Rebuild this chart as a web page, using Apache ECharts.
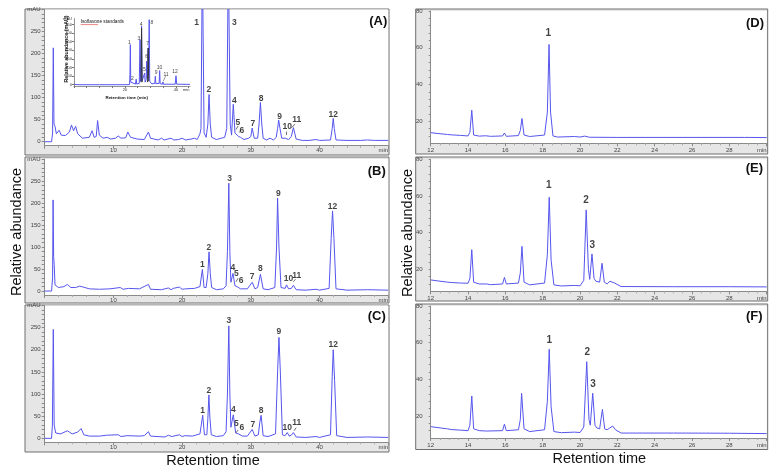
<!DOCTYPE html>
<html><head><meta charset="utf-8">
<script src="https://cdn.jsdelivr.net/npm/echarts@6/dist/echarts.min.js"></script>
<style>html,body{margin:0;padding:0;background:#fff}#c{width:778px;height:475px}</style>
</head><body><div id="c"></div>
<script>
// ---------- DATA ----------
const leftYTicks = [0, 50, 100, 150, 200, 250];
const rightYTicks = [20, 40, 60, 80];
const insetYTicks = [0, 50, 100, 150, 200, 250, 300, 350];

// Panel A: retention time (min) vs mAU
const traceA = [[0,0],[1.0,0],[1.15,20],[1.25,213],[1.35,40],[1.5,35],[1.7,18],[2.1,26],[2.4,15],[3.0,14],[3.6,22],[3.9,38],[4.2,25],[4.5,35],[4.8,18],[5.5,8],[6.5,10],[6.9,25],[7.2,10],[7.5,12],[7.7,48],[7.95,15],[8.5,8],[9.1,10],[9.6,6],[10.3,8],[10.7,13],[11.1,8],[11.8,9],[12.1,22],[12.5,10],[13.5,6],[14.5,5],[15.1,22],[15.4,8],[16.5,4],[17.0,8],[17.4,4],[18.4,8],[18.8,4],[19.5,5],[20.0,8],[20.5,4],[21.3,6],[21.8,8],[22.2,5],[22.6,18],[22.75,30],[22.95,420],[23.2,20],[23.5,10],[23.75,40],[23.92,107],[24.1,40],[24.3,10],[25.0,5],[25.7,8],[26.2,10],[26.5,30],[26.73,420],[27.0,40],[27.2,15],[27.45,85],[27.7,20],[27.9,18],[28.2,12],[28.5,10],[29.0,5],[29.7,8],[30.0,12],[30.2,31],[30.5,8],[31.0,8],[31.2,40],[31.4,89],[31.6,40],[31.8,8],[32.3,4],[32.8,8],[33.3,4],[33.7,10],[33.9,30],[34.06,49],[34.25,30],[34.5,8],[35.0,8],[35.2,12],[35.5,5],[35.9,12],[36.2,32],[36.6,6],[37.5,3],[38.5,3],[39.5,5],[40,3],[41.6,4],[41.85,30],[42.0,53],[42.15,30],[42.4,4],[44,3],[46,3],[47,4],[48,3],[50,3]];
const labelsA = [[22.1,271,'1'],[23.9,119,'2'],[27.6,271,'3'],[27.6,94,'4'],[28.1,43,'5'],[28.7,26,'6'],[30.3,40,'7'],[31.5,98,'8'],[34.2,58,'9'],[35.3,34,'10'],[36.7,51,'11'],[42.0,62,'12']];
const leadersA = [[27.85,27.7,28.14,35.6],[28.33,21,28.57,27],[35.2,15,35.2,23],[35.95,32,36.43,40]];

// Panel B
const traceB = [[0,0],[1.0,0],[1.15,30],[1.22,207],[1.3,78],[1.38,60],[1.5,14],[2,8],[2.8,10],[3.3,15],[3.8,8],[4.5,8],[5.1,11],[5.6,9],[6.5,5],[8,4],[9.5,5],[11,8],[11.4,4],[12.2,6],[13.8,5],[15.1,15],[15.4,4],[17,3],[18.0,7],[18.4,3],[18.7,6],[19.6,9],[20,4],[20.5,5],[21.8,6],[22.6,10],[22.75,8],[22.95,49],[23.2,8],[23.5,8],[23.75,40],[23.92,89],[24.1,40],[24.3,8],[25,3],[26,5],[26.4,12],[26.6,90],[26.8,245],[26.95,90],[27.1,20],[27.4,40],[27.7,12],[28.0,10],[28.5,5],[29.5,5],[30.2,20],[30.6,5],[31.0,8],[31.4,38],[31.8,5],[32.5,3],[33.5,8],[33.75,100],[33.9,211],[34.1,100],[34.4,8],[35.0,6],[35.2,14],[35.5,5],[35.9,6],[36.2,13],[36.6,3],[38,2],[39.5,4],[40,2],[41.4,6],[41.7,120],[41.9,182],[42.1,120],[42.4,5],[44,2],[47,3],[50,2]];
const labelsB = [[22.95,59,'1'],[23.9,98,'2'],[26.9,256,'3'],[27.4,52,'4'],[27.9,39,'5'],[28.6,23,'6'],[30.2,32,'7'],[31.4,50,'8'],[34.0,222,'9'],[35.5,27,'10'],[36.7,34,'11'],[41.9,192,'12']];
const leadersB = [[27.85,21,28.14,29],[36.2,21,36.5,27]];

// Panel C
const traceC = [[0,0],[1.0,0],[1.12,30],[1.25,246],[1.38,30],[1.6,12],[2.3,10],[3.3,17],[4.0,10],[4.8,14],[5.3,22],[5.7,8],[6.5,5],[8,5],[9,7],[10.7,8],[11.1,4],[12,6],[13.7,5],[14.5,6],[15.1,15],[15.4,5],[17.5,3],[18,7],[18.5,4],[19.6,8],[20,4],[20.4,6],[21.5,5],[22.6,10],[22.8,8],[23.0,52],[23.25,8],[23.6,8],[23.75,45],[23.9,98],[24.05,45],[24.25,8],[25,4],[26,6],[26.4,15],[26.6,100],[26.8,254],[26.95,100],[27.1,25],[27.45,53],[27.8,12],[28.2,10],[28.8,5],[29.5,5],[30.2,20],[30.6,5],[31.1,8],[31.3,35],[31.5,52],[31.8,6],[32.5,4],[33.6,10],[33.9,150],[34.1,228],[34.3,150],[34.6,8],[35.0,6],[35.3,13],[35.6,5],[35.9,7],[36.2,13],[36.6,3],[38,2],[39.5,4],[40,2],[41.6,8],[41.85,140],[42.0,200],[42.2,130],[42.5,6],[44,2],[47,3],[50,2]];
const labelsC = [[23.0,62,'1'],[23.9,108,'2'],[26.8,265,'3'],[27.45,65,'4'],[27.9,33,'5'],[28.7,23,'6'],[30.3,30,'7'],[31.5,62,'8'],[34.1,240,'9'],[35.3,23,'10'],[36.7,36,'11'],[42.0,211,'12']];
const leadersC = [[27.85,12.6,28.14,18.7],[36.3,17,36.6,24]];

// Panel D
const traceD = [[12,13.8],[12.5,13.2],[12.9,12.8],[13.0,13.8],[13.1,12.6],[13.6,12.3],[14.0,12.0],[14.1,14],[14.2,26],[14.3,12.5],[14.6,11.9],[14.95,12.1],[15.2,11.8],[15.85,12],[15.95,13.6],[16.05,11.8],[16.7,12.2],[16.8,15],[16.89,21.5],[17.0,12.5],[17.3,11.7],[18.1,12.5],[18.25,25],[18.34,61.8],[18.42,25],[18.55,12],[18.8,11.4],[19.7,11.7],[20.0,11.4],[20.25,11.9],[20.5,11.3],[22,11.2],[26,11.2],[28.8,11.2],[28.9,11.5],[29.1,11.2],[30,11.1]];
const labelsD = [[18.3,67.8,'1']];

// Panel E
const traceE = [[12,14.2],[12.5,13.5],[12.9,13.0],[13.0,13.6],[13.1,12.8],[13.6,12.5],[14.0,12.4],[14.1,15],[14.2,30.7],[14.3,13],[14.6,12],[15.0,12],[15.2,11.6],[15.85,12],[15.95,15.6],[16.05,12],[16.7,12.5],[16.8,18],[16.89,32.5],[17.0,13],[17.3,11.5],[18.1,12.5],[18.25,28],[18.35,59.3],[18.45,25],[18.6,11.5],[19.0,10.9],[19.7,11.2],[20.0,11],[20.2,14],[20.33,52.4],[20.45,20],[20.52,14.5],[20.64,28.4],[20.75,15],[20.85,13.5],[21.05,13],[21.18,23.3],[21.3,13],[21.45,12],[21.6,13.5],[21.7,14.2],[21.85,12.5],[22.2,10.6],[25,10.5],[28,10.5],[30,10.4]];
const labelsE = [[18.32,65.7,'1'],[20.32,57.9,'2'],[20.66,33.3,'3']];

// Panel F
const traceF = [[12,14.2],[12.5,13.5],[12.9,13],[13.0,13.4],[13.1,12.6],[13.6,12.3],[14.0,12],[14.1,15],[14.2,30.9],[14.3,13],[14.6,12],[15.0,11.8],[15.85,12],[15.95,15.6],[16.05,12],[16.7,12.5],[16.8,18],[16.87,32.4],[17.0,13],[17.3,11.5],[18.1,12.5],[18.25,28],[18.35,56.4],[18.45,25],[18.6,11.5],[19.0,10.9],[19.7,11.2],[20.0,11],[20.2,14],[20.36,49.6],[20.48,18],[20.55,15],[20.68,32.4],[20.8,15],[20.9,13.5],[21.05,13],[21.2,23.6],[21.32,13],[21.45,12.5],[21.6,13.5],[21.75,14.5],[21.9,12.5],[22.2,10.7],[25,10.7],[28,10.6],[30,10.4]];
const labelsF = [[18.35,61.5,'1'],[20.39,54.8,'2'],[20.69,37.3,'3']];

// Inset: isoflavone standards
const traceInset = [[0,3],[0.4,6],[0.8,1],[2,0],[10,0],[20,0],[21.8,1],[21.95,60],[22.1,233],[22.25,15],[22.5,5],[22.7,20],[22.9,4],[24.1,4],[24.4,32],[24.6,4],[25.6,8],[25.9,262],[26.15,20],[26.35,40],[26.5,340],[26.7,20],[27.4,10],[27.7,68],[27.9,15],[28.3,30],[28.5,136],[28.7,40],[28.95,60],[29.1,213],[29.25,60],[29.5,378],[29.7,20],[30.5,5],[31.7,8],[31.9,49],[32.1,6],[33.4,8],[33.6,82],[33.8,6],[34.7,3],[34.9,16],[35.1,3],[39.7,3],[40.0,52],[40.3,3],[45.5,2]];
const traceInsetDark1 = [[26.3,15],[26.5,330],[26.7,15]];
const traceInsetDark2 = [[28.85,15],[29.1,213],[29.3,20]];
const labelsInset = [[21.7,243,'1'],[22.9,33,'2'],[25.5,268,'3'],[26.3,349,'4'],[27.6,87,'5'],[28.5,161,'6'],[28.9,238,'7'],[30.6,359,'8'],[32.2,68,'9'],[33.5,97,'10'],[36.1,58,'11'],[39.6,78,'12']];
const leadersInset = [[35.0,20,35.9,50]];

// ---------- LAYOUT ----------
const FONT = '"Liberation Sans", Arial, sans-serif';
const LINE = '#5555ee';
const panels = [
  {trace: traceA, labels: labelsA, leaders: leadersA, side: 'L', grid: {left: 44.7, top: 9.5, width: 343.5, height: 136.2}, frame: [25, 9, 364, 146], letter: ['(A)', 378.3, 21.7]},
  {trace: traceB, labels: labelsB, leaders: leadersB, side: 'L', grid: {left: 44.7, top: 159, width: 343.5, height: 136}, frame: [25, 157, 364, 146], letter: ['(B)', 376.7, 171.7]},
  {trace: traceC, labels: labelsC, leaders: leadersC, side: 'L', grid: {left: 44.7, top: 305.5, width: 343.5, height: 136.8}, frame: [25, 305, 364, 147], letter: ['(C)', 376.7, 316.7]},
  {trace: traceD, labels: labelsD, leaders: [], side: 'R', grid: {left: 430.7, top: 11, width: 336, height: 132.3}, frame: [415.7, 9, 352, 145], letter: ['(D)', 755, 23.3]},
  {trace: traceE, labels: labelsE, leaders: [], side: 'R', grid: {left: 430.7, top: 159.3, width: 336, height: 132}, frame: [415.7, 157, 352, 144], letter: ['(E)', 754.3, 168.3]},
  {trace: traceF, labels: labelsF, leaders: [], side: 'R', grid: {left: 430.7, top: 306, width: 336, height: 132}, frame: [415.7, 304, 352, 145.5], letter: ['(F)', 754.3, 316.7]}
];

const grid = [], xAxis = [], yAxis = [], series = [], graphic = [];
const axisColor = '#8a8a8a';
const tickLabel = {fontSize: 6, color: '#444', fontFamily: FONT};

function range(a, b, s) { const r = []; for (let v = a; v <= b + 1e-9; v += s) r.push(+v.toFixed(4)); return r; }
function leaderSeries(idx, arr, width) {
  return {type: 'lines', coordinateSystem: 'cartesian2d', xAxisIndex: idx, yAxisIndex: idx, z: 5, animation: false,
    lineStyle: {color: '#333', width: width, opacity: 1, curveness: 0}, silent: true,
    data: arr.map(d => ({coords: [[d[0], d[1]], [d[2], d[3]]]}))};
}

panels.forEach((p, i) => {
  grid.push(Object.assign({show: false}, p.grid));
  const L = p.side === 'L';
  xAxis.push({
    gridIndex: i, type: 'value', min: L ? 0 : 12, max: L ? 50 : 30, interval: L ? 10 : 2,
    axisLine: {show: true, onZero: false, lineStyle: {color: axisColor, width: 1}},
    axisTick: {show: true, length: 3, lineStyle: {color: axisColor}},
    minorTick: {show: true, splitNumber: L ? 5 : 4, length: 2, lineStyle: {color: '#aaa'}},
    splitLine: {show: false},
    axisLabel: Object.assign({}, tickLabel, {margin: L ? 2 : 4, alignMaxLabel: 'right',
      formatter: v => (L && v === 0) ? '' : ((v === (L ? 50 : 30)) ? 'min' : String(v))})
  });
  yAxis.push({
    gridIndex: i, type: 'value', min: L ? -9 : 8, max: L ? 300 : 80,
    axisLine: {show: true, onZero: false, lineStyle: {color: axisColor, width: 1}},
    axisTick: {show: true, length: L ? 3 : 2, lineStyle: {color: axisColor},
      customValues: L ? range(0, 300, 10) : range(12, 80, 4)},
    splitLine: {show: false},
    axisLabel: Object.assign({}, tickLabel, {margin: L ? 4 : 8,
      customValues: L ? leftYTicks.concat([300]) : rightYTicks,
      formatter: v => (L && v === 300) ? 'mAU' : String(v)})
  });
  series.push({type: 'line', xAxisIndex: i, yAxisIndex: i, data: p.trace, showSymbol: false, symbol: 'none',
    clip: true, lineStyle: {color: LINE, width: 1}, animation: false, z: 3});
  series.push({type: 'scatter', xAxisIndex: i, yAxisIndex: i, data: p.labels, symbolSize: 0, animation: false, z: 5,
    label: {show: true, position: 'inside', formatter: q => q.value[2], fontSize: L ? 8.5 : 10, fontWeight: 'bold',
      color: '#111', fontFamily: FONT}});
  if (p.leaders.length) series.push(leaderSeries(i, p.leaders, 0.7));
  const f = p.frame;
  graphic.push({type: 'rect', z: -10, z2: 0, shape: {x: f[0], y: f[1], width: f[2], height: f[3]},
    style: {fill: '#e6e6e6', stroke: '#6e6e6e', lineWidth: 1}});
  graphic.push({type: 'rect', z: -10, z2: 1, shape: {x: p.grid.left, y: p.grid.top, width: p.grid.width, height: p.grid.height},
    style: {fill: '#ffffff'}});
  graphic.push({type: 'text', z: 50, style: {x: p.letter[1], y: p.letter[2], text: p.letter[0], textAlign: 'center',
    textVerticalAlign: 'middle', fontSize: 13, fontWeight: 'bold', fontFamily: FONT, fill: '#111'}});
});

// inset grid (index 6)
grid.push({show: false, left: 74, top: 18.5, width: 116, height: 67.6});
xAxis.push({gridIndex: 6, type: 'value', min: 0, max: 45.5,
  axisLine: {show: true, onZero: false, lineStyle: {color: '#777', width: 0.8}},
  axisTick: {show: true, length: 2, lineStyle: {color: '#777'}, customValues: range(0, 45, 5)},
  splitLine: {show: false},
  axisLabel: {fontSize: 4, color: '#333', margin: 2, fontFamily: FONT, customValues: [20, 40, 44],
    formatter: v => v === 44 ? 'min' : String(v)}});
yAxis.push({gridIndex: 6, type: 'value', min: -8, max: 385,
  axisLine: {show: true, onZero: false, lineStyle: {color: '#777', width: 0.8}},
  axisTick: {show: true, length: 2, lineStyle: {color: '#777'}, customValues: insetYTicks},
  splitLine: {show: false},
  axisLabel: {fontSize: 4, color: '#333', margin: 2, fontFamily: FONT, customValues: insetYTicks.concat([385]),
    formatter: v => v === 385 ? 'mAU' : String(v)}});
series.push({type: 'line', xAxisIndex: 6, yAxisIndex: 6, data: traceInset, symbol: 'none', lineStyle: {color: LINE, width: 1}, animation: false, z: 3});
series.push({type: 'line', xAxisIndex: 6, yAxisIndex: 6, data: traceInsetDark1, symbol: 'none', lineStyle: {color: '#333', width: 1}, animation: false, z: 4});
series.push({type: 'line', xAxisIndex: 6, yAxisIndex: 6, data: traceInsetDark2, symbol: 'none', lineStyle: {color: '#333', width: 1}, animation: false, z: 4});
series.push({type: 'scatter', xAxisIndex: 6, yAxisIndex: 6, data: labelsInset, symbolSize: 0, animation: false, z: 5,
  label: {show: true, position: 'inside', formatter: q => q.value[2], fontSize: 5, color: '#111', fontFamily: FONT}});
series.push(leaderSeries(6, leadersInset, 0.5));

// texts
function rotText(x, y, text, size, bold) {
  return {type: 'text', x: x, y: y, rotation: Math.PI / 2, z: 50,
    style: {x: 0, y: 0, text: text, textAlign: 'center', textVerticalAlign: 'middle', fontSize: size,
      fontWeight: bold ? 'bold' : 'normal', fontFamily: FONT, fill: '#111'}};
}
function txt(x, y, text, size, bold, align) {
  return {type: 'text', z: 50, style: {x: x, y: y, text: text, textAlign: align || 'center', textVerticalAlign: 'middle',
    fontSize: size, fontWeight: bold ? 'bold' : 'normal', fontFamily: FONT, fill: '#111'}};
}
graphic.push(rotText(16.5, 232, 'Relative abundance', 14.5));
graphic.push(rotText(408, 233, 'Relative abundance', 14.5));
graphic.push(txt(213, 461, 'Retention time', 14.5));
graphic.push(txt(599.3, 459.3, 'Retention time', 14.5));
graphic.push(txt(80.7, 22, 'Isoflavone standards', 4.7, false, 'left'));
graphic.push({type: 'line', z: 50, shape: {x1: 80.7, y1: 24.6, x2: 98, y2: 24.6}, style: {stroke: '#d33', lineWidth: 0.6}});
graphic.push(rotText(66.5, 49, 'Relative abundance (mAU)', 5.3, true));
graphic.push(txt(126.7, 97.3, 'Retention time (min)', 4.4, true));

const chart = echarts.init(document.getElementById('c'), null, {renderer: 'canvas'});
chart.setOption({animation: false, backgroundColor: '#ffffff', grid, xAxis, yAxis, series, graphic});
</script></body></html>
